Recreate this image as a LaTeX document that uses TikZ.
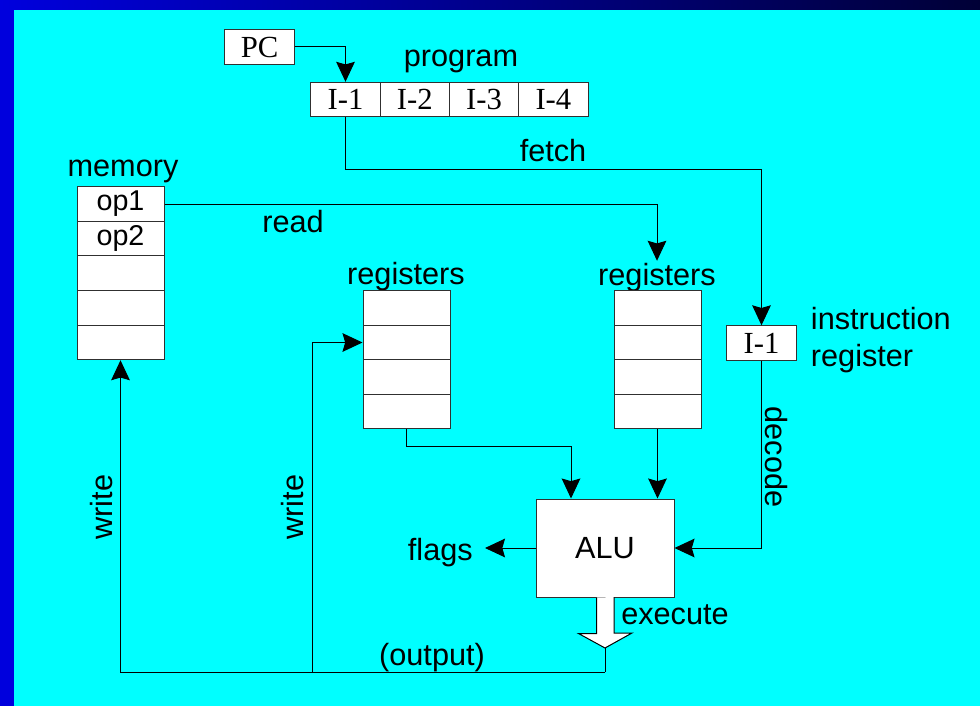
\documentclass[tikz,border=0pt]{standalone}
\usepackage{fontspec}
\setmainfont{Liberation Sans}
\newfontfamily\boxfont{Liberation Serif}
\usetikzlibrary{arrows.meta,calc,positioning}
\definecolor{panelcyan}{HTML}{00FFFF}
\definecolor{bandblue}{HTML}{0000DD}
\definecolor{banddark}{HTML}{000036}
\definecolor{ink}{HTML}{000000}
\definecolor{edge}{HTML}{303030}
\tikzset{
  font=\fontsize{23}{27.6}\selectfont,
  >={Stealth[length=15pt,width=14pt,inset=2pt]},
  flow/.style={draw=ink, line width=.75pt, ->},
  wire/.style={draw=ink, line width=.75pt},
  cell/.style={draw=edge, fill=white, line width=.75pt,
    minimum width=65.25pt, minimum height=26pt, inner sep=0pt,
    font=\fontsize{21.5}{24}\selectfont},
  slot/.style={cell, minimum width=52pt, minimum height=25.8pt,
    font=\boxfont\fontsize{23}{26}\selectfont},
  unit/.style={cell, minimum width=103.5pt, minimum height=73.5pt,
    font=\fontsize{23}{27.6}\selectfont},
  txt/.style={inner sep=2pt, text=ink}
}
\begin{document}
\begin{tikzpicture}[x=0.75pt,y=-0.75pt]
  \useasboundingbox (0,0) rectangle (980,706);
  \fill[bandblue] (0,0) rectangle (980,706);
  \shade[left color=bandblue, right color=banddark] (0,0) rectangle (980,10);
  \fill[panelcyan] (14,10) rectangle (980,706);

  % -------------------------------------------------------------------
  % Program counter and program.
  \node[slot] (pc) at (259.5,47) {PC};
  \node[txt] (progLabel) at (461,61) {program};
  \node[slot] (prog1) at (345.5,99.5) {I-1};
  \node[slot] (prog2) at (414.8,99.5) {I-2};
  \node[slot] (prog3) at (484.1,99.5) {I-3};
  \node[slot] (prog4) at (553.4,99.5) {I-4};
  \draw[flow] (pc.east) -| (prog1.north);

  % -------------------------------------------------------------------
  % Memory.
  \node[txt] (memLabel) at (123,171) {memory};
  \node[cell] (mem1) at (120.5,204) {op1};
  \node[cell] (mem2) at (120.5,238.6) {op2};
  \foreach \i/\y in {3/273.2,4/307.8,5/342.4}
    \node[cell] (mem\i) at (120.5,\y) {};

  % -------------------------------------------------------------------
  % Register files.
  \node[txt] (regALabel) at (406,277) {registers};
  \node[txt] (regBLabel) at (657,278) {registers};
  \foreach \i/\y in {1/308,2/342.5,3/377,4/411.5} {
    \node[cell] (regA\i) at (406.5,\y) {};
    \node[cell] (regB\i) at (657.5,\y) {};
  }

  % -------------------------------------------------------------------
  % Instruction register and ALU.
  \node[slot] (ir) at (761.5,343) {I-1};
  \node[txt, align=left, anchor=west] (irLabel) at (808,340)
    {instruction\\register};
  \node[unit] (alu) at (605,548) {ALU};

  % fetch / read / decode
  \draw[flow] (prog1.south) -- ++(0,52) -| (ir.north);
  \node[txt] (fetchLabel) at (553,151) {fetch};
  \draw[flow] (mem1.east) -| (regBLabel.north);
  \node[txt] (readLabel) at (293,222) {read};
  \draw[flow] (ir.south) |- (alu.east);
  \node[txt, rotate=-90] (decodeLabel) at (776,457) {decode};

  % operands into the ALU
  \draw[flow] (regA4.south) -- ++(0,17) -| ($(alu.north)+(-34,0)$);
  \draw[flow] (regB4.south) -- (regB4.south |- alu.north);

  \node[txt, anchor=east, inner xsep=9pt] (flagsLabel) at (485,553) {flags};
  \draw[flow] (alu.west) -- (alu.west -| flagsLabel.east);

  % -------------------------------------------------------------------
  % Execute and write back.
  \coordinate (execTip) at (605,648);
  \coordinate (outBase) at (605,672);
  \coordinate (regTap) at (312,672);
  \draw[wire, fill=white] ($(alu.south)+(-8.5,0)$) -- ++(0,36) -- ++(-18,0)
    -- (execTip) -- ++(27,-15) -- ++(-18,0) -- ++(0,-36);
  \node[txt] (execLabel) at (675,615) {execute};
  \draw[wire] (execTip) -- (outBase);
  \draw[flow] (outBase) -| (mem5.south);
  \draw[flow] (regTap) |- (regA2.west);
  \node[txt] (outLabel) at (432,658) {(output)};
  \node[txt, rotate=90] (writeMem) at (102,507) {write};
  \node[txt, rotate=90] (writeReg) at (293,507) {write};
\end{tikzpicture}
\end{document}
